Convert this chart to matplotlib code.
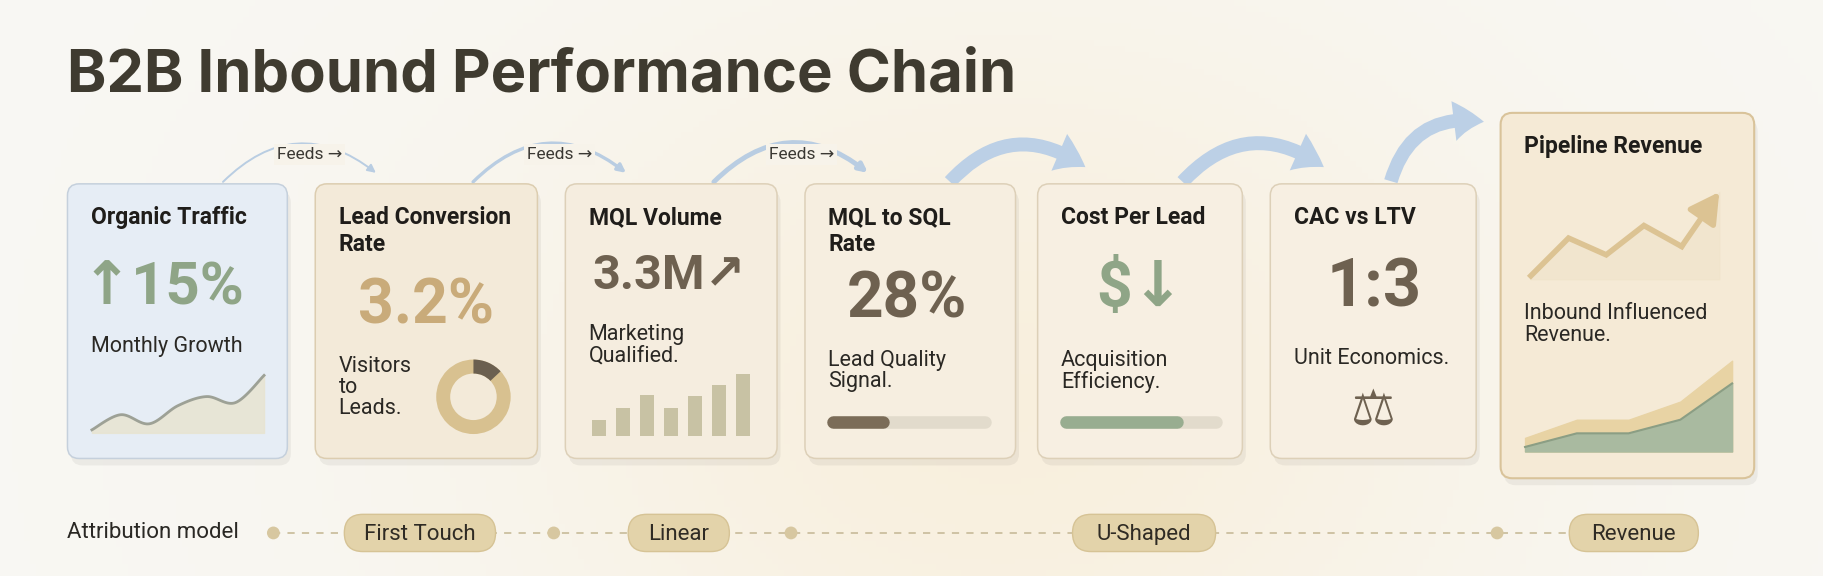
import numpy as np
import matplotlib
matplotlib.use("Agg")
import matplotlib.pyplot as plt
from matplotlib.patches import FancyBboxPatch, FancyArrowPatch, Wedge, Circle

plt.rcParams['font.family'] = ['Roboto', 'DejaVu Sans']

# ---- data ----
card_titles = ["Organic Traffic", "Lead Conversion\nRate", "MQL Volume", "MQL to SQL\nRate",
               "Cost Per Lead", "CAC vs LTV", "Pipeline Revenue"]
card_values = ["↑15%", "3.2%", "3.3M↗", "28%", "$↓", "1:3", ""]
card_subs = ["Monthly Growth", "Visitors\nto\nLeads.", "Marketing\nQualified.", "Lead Quality\nSignal.",
             "Acquisition\nEfficiency.", "Unit Economics.", "Inbound Influenced\nRevenue."]
traffic_line = [0.05, 0.30, 0.15, 0.45, 0.60, 0.50, 0.95]
donut_share = 0.13
mql_bars = [0.25, 0.45, 0.65, 0.45, 0.63, 0.80, 0.97]
sql_progress = 0.33
cpl_progress = 0.74
pipeline_spark = [0.0, 0.45, 0.25, 0.60, 0.35, 1.0]
rev_top = [0.15, 0.35, 0.35, 0.55, 1.0]
rev_bottom = [0.05, 0.20, 0.20, 0.35, 0.75]
feeds_labels = ["Feeds →", "Feeds →", "Feeds →"]
attr_label = "Attribution model"
attr_stages = ["First Touch", "Linear", "U-Shaped", "Revenue"]

W, H = 1568, 495
fig = plt.figure(figsize=(18.24, 5.76), dpi=100)
ax = fig.add_axes([0, 0, 1, 1])
ax.set_xlim(0, W); ax.set_ylim(H, 0); ax.axis('off')

# background gradient
gx = np.linspace(0, 1, 300)
gy = np.linspace(0, 1, 100)
X, Y = np.meshgrid(gx, gy)
c1 = np.array([0.975, 0.97, 0.955]); c2 = np.array([0.975, 0.94, 0.87])
t = np.exp(-((X - 0.55) ** 2) / 0.08 - ((Y - 0.7) ** 2) / 0.5)[..., None]
img = c1 * (1 - t) + c2 * t
ax.imshow(img, extent=[0, W, H, 0], aspect='auto', zorder=0)

ax.text(58, 65, "B2B Inbound Performance Chain", fontsize=43, fontweight='bold',
        family=['Inter', 'DejaVu Sans'], color='#3f3b30', va='center', ha='left')

cards = [(58, 158, 189, 236, '#e6edf5', '#c5d0dc'),
         (271, 158, 191, 236, '#f3ead9', '#dccdb0'),
         (486, 158, 182, 236, '#f5eddf', '#ddd0b8'),
         (692, 158, 181, 236, '#f6eee0', '#ddd0b8'),
         (892, 158, 176, 236, '#f7efe2', '#ddd0b8'),
         (1092, 158, 177, 236, '#f7efe2', '#ddd0b8'),
         (1290, 97, 218, 314, '#f5ead6', '#d9c39a')]
for i, (x, y, w, h, fc, ec) in enumerate(cards):
    ax.add_patch(FancyBboxPatch((x + 3, y + 6), w, h, boxstyle="round,pad=0,rounding_size=10",
                                fc='#000000', ec='none', alpha=0.05, zorder=1))
    ax.add_patch(FancyBboxPatch((x, y), w, h, boxstyle="round,pad=0,rounding_size=10",
                                fc=fc, ec=ec, lw=1.5 if i == 6 else 1.1, zorder=2))
    two = '\n' in card_titles[i]
    ty = y + 29 + (11.5 if two else 0)
    ax.text(x + 20, ty, card_titles[i], fontsize=16.5, fontweight='bold', color='#1f1d1a',
            va='center', ha='left', zorder=3, linespacing=1.17)

vcol = ['#8fa587', '#c9ab7a', '#6e6150', '#6e6150', '#8fa587', '#6e6150']
vpos = [(140, 248), (366, 263), (575, 237), (780, 258), (980, 248), (1181, 248)]
vsize = [43, 45, 35, 46, 45, 48]
for i in range(6):
    x, y = vpos[i]
    ax.text(x, y, card_values[i], fontsize=vsize[i], fontweight='bold', color=vcol[i],
            ha='center', va='center', zorder=3)

subpos = [(78, 298), (291, 333), (506, 297), (712, 319), (912, 319), (1112, 308), (1310, 279)]
for i, (x, y) in enumerate(subpos):
    ax.text(x, y, card_subs[i], fontsize=15.5, color='#2a2824', ha='left', va='center',
            linespacing=1.02, zorder=3)

# smooth helper (Catmull-Rom)
def smooth(xs, ys, n=20):
    P = np.column_stack([xs, ys])
    P = np.vstack([P[0], P, P[-1]])
    out = []
    for i in range(1, len(P) - 2):
        p0, p1, p2, p3 = P[i - 1], P[i], P[i + 1], P[i + 2]
        for tt in np.linspace(0, 1, n, endpoint=False):
            out.append(0.5 * ((2 * p1) + (-p0 + p2) * tt + (2 * p0 - 5 * p1 + 4 * p2 - p3) * tt ** 2
                              + (-p0 + 3 * p1 - 3 * p2 + p3) * tt ** 3))
    out.append(P[-2])
    out = np.array(out)
    return out[:, 0], out[:, 1]

# card 1 sparkline
xs = np.linspace(79, 227, len(traffic_line))
ys = 372 - np.array(traffic_line) * 52
sx, sy = smooth(xs, ys)
ax.fill_between(sx, sy, 372, color='#e8e4cf', alpha=0.8, zorder=3)
ax.plot(sx, sy, color='#9da196', lw=2, zorder=4)

# card 2 donut (y axis inverted: angles run clockwise, top = 270)
cx, cy, r = 407, 341, 32
ax.add_patch(Wedge((cx, cy), r, 0, 360, width=12, fc='#d8c190', ec='none', zorder=3))
ax.add_patch(Wedge((cx, cy), r, 270, 270 + 360 * donut_share, width=12, fc='#6b6050', ec='none', zorder=4))

# card 3 bars
bx = np.linspace(515, 639, len(mql_bars))
for b, hgt in zip(bx, mql_bars):
    ax.bar(b, -hgt * 55, bottom=375, width=12, color='#c8c2a4', zorder=3)

# card 4 / card 5 progress bars
def prog(x0, x1, y, frac, col):
    ax.plot([x0, x1], [y, y], color='#e2dbcc', lw=9, solid_capstyle='round', zorder=3)
    ax.plot([x0, x0 + (x1 - x0) * frac], [y, y], color=col, lw=9, solid_capstyle='round', zorder=4)
prog(716, 847, 363, sql_progress, '#7b6c58')
prog(916, 1045, 363, cpl_progress, '#98ad90')
ax.text(1180, 353, "⚖", fontsize=36, color='#6e6150', ha='center', va='center', family=['DejaVu Sans'], zorder=3)

# card 7 spark arrow
px = np.linspace(1316, 1478, len(pipeline_spark))
py = 237 - np.array(pipeline_spark) * 72
ax.fill_between(px, py, 240, color='#efe2c8', alpha=0.5, zorder=3)
ax.plot(px[:-1], py[:-1], color='#dcc393', lw=4, solid_joinstyle='miter', zorder=4)
ax.annotate("", xy=(px[-1], py[-1]), xytext=(px[-2], py[-2]),
            arrowprops=dict(arrowstyle='-|>,head_width=0.5,head_length=0.9', color='#dcc393', lw=4,
                            mutation_scale=20, shrinkA=0, shrinkB=0), zorder=4)
rx = np.linspace(1311, 1489, len(rev_top))
ax.fill_between(rx, 388 - np.array(rev_top) * 78, 388, color='#e8d3a4', zorder=3)
ax.fill_between(rx, 388 - np.array(rev_bottom) * 78, 388, color='#a9baa0', zorder=4)
ax.plot(rx, 388 - np.array(rev_bottom) * 78, color='#8b9e84', lw=1.5, zorder=5)

# Feeds arrows
feeds = [(190, 158, 325, 150, 266), (405, 158, 540, 150, 481), (612, 158, 748, 150, 689)]
for k, ((x0, y0, x1, y1, tx), lab) in enumerate(zip(feeds, feeds_labels)):
    ax.add_patch(FancyArrowPatch((x0, y0), (x1, y1), connectionstyle="arc3,rad=-0.45",
                                 arrowstyle='-|>', mutation_scale=12, color='#b9cde2',
                                 lw=[1.4, 2.4, 3.5][k], zorder=1.5))
    ax.text(tx, 133, lab, fontsize=12.5, color='#3a3833', ha='center',
            va='center', zorder=3, bbox=dict(fc='#f7f3ea', ec='none', pad=2))
big = [(815, 158, 935, 145), (1015, 158, 1140, 145), (1195, 158, 1278, 105)]
for (x0, y0, x1, y1) in big:
    ax.add_patch(FancyArrowPatch((x0, y0), (x1, y1), connectionstyle="arc3,rad=-0.45",
                                 arrowstyle='simple,head_width=1.6,head_length=1.2,tail_width=0.55',
                                 mutation_scale=18, color='#bcd0e6', lw=0, zorder=1.5))

# attribution row
ay = 458
ax.text(58, ay, attr_label, fontsize=16, color='#2a2824', ha='left', va='center')
ax.plot([235, 1460], [ay, ay], color='#cbbf9f', lw=1.3, ls=(0, (4, 4)), zorder=1)
for dx in [235, 476, 680, 1287]:
    ax.add_patch(Circle((dx, ay), 5.5, fc='#d7c7a0', ec='none', zorder=2))
pills = [(296, 426), (540, 627), (922, 1045), (1349, 1460)]
for (a, b), lab in zip(pills, attr_stages):
    ax.add_patch(FancyBboxPatch((a, ay - 16), b - a, 32, boxstyle="round,pad=0,rounding_size=16",
                                fc='#e3d3aa', ec='#d6c395', lw=1, zorder=2))
    ax.text((a + b) / 2, ay + 1, lab, fontsize=16, color='#2f2b24', ha='center', va='center', zorder=3)

fig.savefig("out.png", dpi=100)
